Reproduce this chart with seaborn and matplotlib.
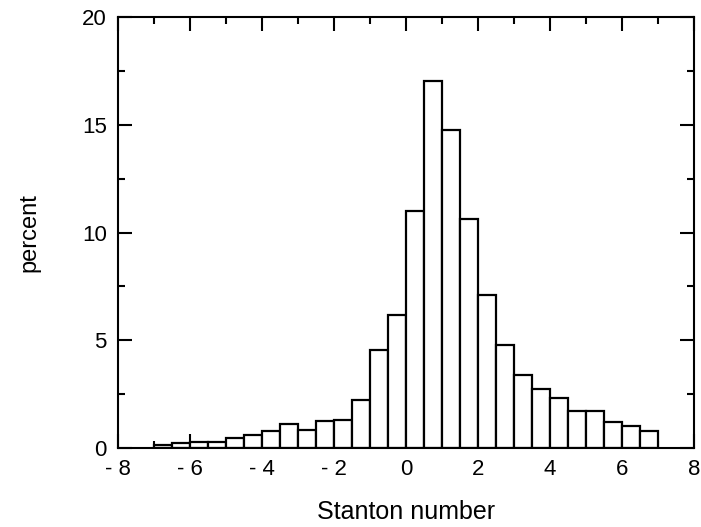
import numpy as np
import pandas as pd
import matplotlib
matplotlib.use("Agg")
import matplotlib.pyplot as plt
import seaborn as sns
from matplotlib.ticker import MultipleLocator

# bins of width 0.5 from -7 to 7, percent per bin
bin_left = np.arange(-7.0, 7.0, 0.5)
percent = [0.12, 0.25, 0.30, 0.30, 0.46, 0.62, 0.77, 1.13, 0.82, 1.23, 1.28, 2.22,
           4.53, 6.16, 10.98, 17.05, 14.75, 10.61, 7.12, 4.77, 3.37, 2.75, 2.32,
           1.70, 1.70, 1.20, 1.00, 0.77]

x_ticks = [-8, -6, -4, -2, 0, 2, 4, 6, 8]
x_labels = ["- 8", "- 6", "- 4", "- 2", "0", "2", "4", "6", "8"]
y_ticks = [0, 5, 10, 15, 20]

df = pd.DataFrame({"stanton": bin_left + 0.25, "percent": percent})

sns.set_style("ticks", {"axes.edgecolor": "black", "text.color": "black",
                        "xtick.color": "black", "ytick.color": "black",
                        "axes.labelcolor": "black"})
plt.rcParams['font.family'] = ['Liberation Sans', 'DejaVu Sans']

fig = plt.figure(figsize=(7.01, 5.27), dpi=100)
ax = fig.add_axes([0.1683, 0.1499, 0.8217, 0.8178])

sns.histplot(data=df, x="stanton", weights="percent", binwidth=0.5, binrange=(-7, 7),
             ax=ax, color="white", edgecolor="black", linewidth=1.6, alpha=1)

ax.set_xlim(-8, 8)
ax.set_ylim(0, 20)
ax.set_xticks(x_ticks)
ax.set_xticklabels(x_labels)
ax.set_yticks(y_ticks)
ax.xaxis.set_minor_locator(MultipleLocator(1))
ax.yaxis.set_minor_locator(MultipleLocator(2.5))
ax.tick_params(which="both", direction="in", top=True, right=True, width=1.5,
               labelsize=16, pad=8)
ax.tick_params(which="major", length=10)
ax.tick_params(which="minor", length=5)
for s in ax.spines.values():
    s.set_linewidth(1.5)
    s.set_visible(True)

ax.set_xlabel("Stanton number", fontsize=18, labelpad=14)
ax.set_ylabel("percent", fontsize=17, labelpad=30)

plt.savefig("out.png", dpi=100)
